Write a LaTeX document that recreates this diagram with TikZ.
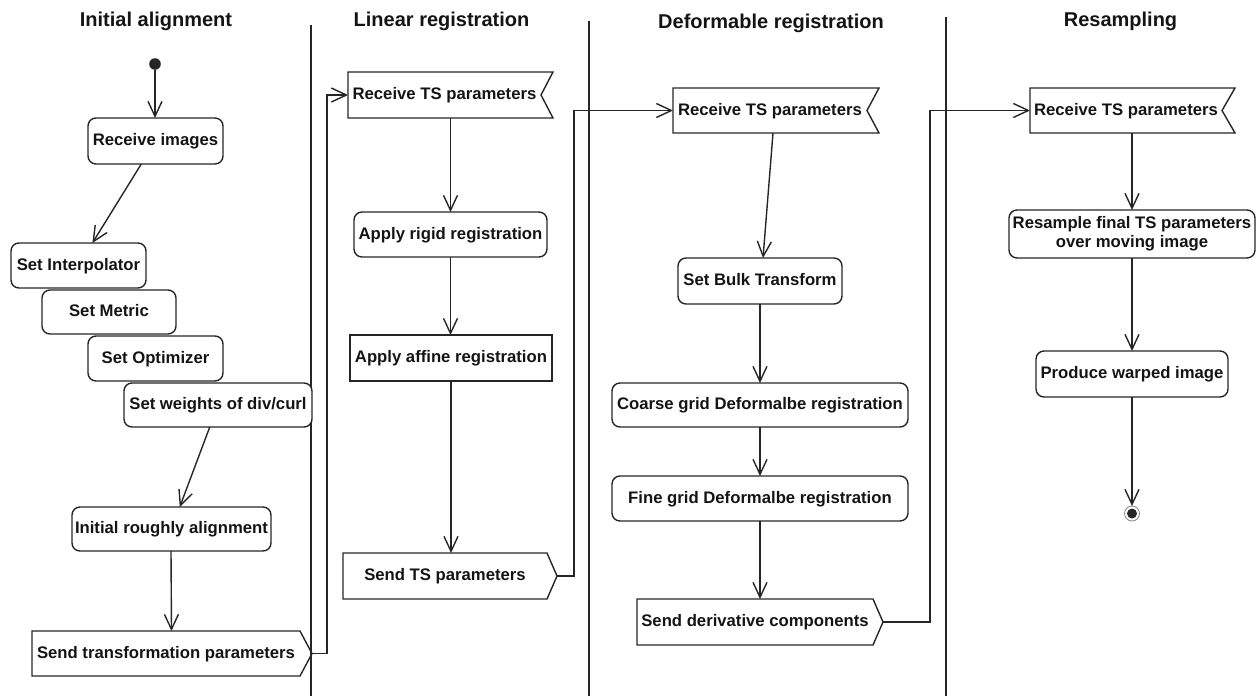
\documentclass[tikz,border=0pt]{standalone}
\usepackage{fontspec}
\setmainfont{Liberation Sans}
\usetikzlibrary{arrows.meta}
\begin{document}
\begin{tikzpicture}[x=1pt,y=-1pt,
  line width=1.4pt, color=black!85,
  every node/.style={inner sep=0pt, outer sep=0pt, text=black!92},
  boxfont/.style={font=\fontsize{16.7}{19}\selectfont\bfseries, align=center},
  fixtext/.style={text height=12pt, text depth=3pt},
  act/.style={boxfont, fixtext, draw, rounded corners=8pt},
  act2/.style={boxfont, draw, rounded corners=8pt},
  plainact/.style={boxfont, fixtext, draw},
  sigbody/.style={boxfont, fixtext},
  title/.style={font=\fontsize{20}{24}\selectfont\bfseries, anchor=base},
  flow/.style={-{Straight Barb[length=15pt,width=14pt]}},
]
\useasboundingbox (0,0) rectangle (1257,696);

% swimlane titles and separators
\node[title] (t1) at (156,27) {Initial alignment};
\node[title] (t2) at (441.5,27) {Linear registration};
\node[title] (t3) at (771,28) {Deformable registration};
\node[title] (t4) at (1120.5,27) {Resampling};
\draw (311,25) -- (311,696);
\draw (589,21) -- (589,696);
\draw (946,17) -- (946,696);

% ---- Initial alignment
\node[circle, fill, minimum size=11.6pt] (start) at (155,64) {};
\node[act, minimum width=135pt, minimum height=46pt] (rimg) at (155.5,141) {Receive images};
\node[act, minimum width=135pt, minimum height=45pt] (interp) at (78.5,265.5) {Set Interpolator};
\node[act, fill=white, minimum width=134pt, minimum height=44pt] (metric) at (109,312) {Set Metric};
\node[act, fill=white, minimum width=135pt, minimum height=45pt] (optim) at (155.5,358.5) {Set Optimizer};
\node[act, fill=white, minimum width=188pt, minimum height=44pt] (weights) at (218,405) {Set weights of div/curl};
\node[act, minimum width=199pt, minimum height=44pt] (rough) at (171.5,529) {Initial roughly alignment};
\node[sigbody, minimum width=268pt, minimum height=45pt] (stf) at (166,653.5) {Send transformation parameters};
\draw (stf.north west) -- (stf.north east) -- ([xshift=12pt]stf.east) -- (stf.south east) -- (stf.south west) -- cycle;

\draw[flow] (start) -- (rimg.north -| start);
\draw[flow] (rimg) -- (interp);
\draw[flow] (weights) -- (rough);
\draw[flow] ([xshift=-0.5pt]rough.south) -- (rough.south |- stf.north);

% ---- Linear registration
\node[sigbody, minimum width=193pt, minimum height=46pt] (rlin) at (444.5,95) {Receive TS parameters};
\draw (rlin.north west) -- ([xshift=12pt]rlin.north east) -- (rlin.east) -- ([xshift=12pt]rlin.south east) -- (rlin.south west) -- cycle;
\node[act, minimum width=193pt, minimum height=45pt] (rigid) at (450.5,234.5) {Apply rigid registration};
\node[plainact, minimum width=202pt, minimum height=46pt] (affine) at (451,358) {Apply affine registration};
\node[sigbody, minimum width=204pt, minimum height=46pt] (sts) at (445,576) {Send TS parameters};
\draw (sts.north west) -- (sts.north east) -- ([xshift=10pt]sts.east) -- (sts.south east) -- (sts.south west) -- cycle;

\draw[flow] ([xshift=-1pt]stf.east) ++(13pt,0) -- ++(15,0) |- (rlin.west);
\draw[flow] (rlin.south -| rigid.north) -- (rigid.north);
\draw[flow] (rigid.south) -- (rigid.south |- affine.north);
\draw[flow] (affine.south) -- (affine.south |- sts.north);

% ---- Deformable registration
\node[sigbody, minimum width=194pt, minimum height=45pt] (rdef) at (770,110.5) {Receive TS parameters};
\draw (rdef.north west) -- ([xshift=12pt]rdef.north east) -- (rdef.east) -- ([xshift=12pt]rdef.south east) -- (rdef.south west) -- cycle;
\node[act, minimum width=164pt, minimum height=46pt] (bulk) at (760,281) {Set Bulk Transform};
\node[act, minimum width=296pt, minimum height=44pt] (coarse) at (760,405) {Coarse grid Deformalbe registration};
\node[act, minimum width=296pt, minimum height=45pt] (fine) at (760,498.5) {Fine grid Deformalbe registration};
\node[sigbody, minimum width=236pt, minimum height=46pt] (sdc) at (755,622) {Send derivative components};
\draw (sdc.north west) -- (sdc.north east) -- ([xshift=10pt]sdc.east) -- (sdc.south east) -- (sdc.south west) -- cycle;

\draw[flow] ([xshift=10pt]sts.east) -- ++(17,0) |- (rdef.west);
\draw[flow] ([xshift=3pt]rdef.south) -- ([xshift=3pt]bulk.north);
\draw[flow] (bulk.south) -- (coarse.north);
\draw[flow] (coarse.south) -- (fine.north);
\draw[flow] (fine.south) -- (fine.south |- sdc.north);

% ---- Resampling
\node[sigbody, minimum width=192pt, minimum height=45pt] (rres) at (1126,110.5) {Receive TS parameters};
\draw (rres.north west) -- ([xshift=13pt]rres.north east) -- (rres.east) -- ([xshift=13pt]rres.south east) -- (rres.south west) -- cycle;
\node[act2, minimum width=246pt, minimum height=48pt] (resamp) at (1132,234) {Resample final TS parameters\\over moving image};
\node[act, minimum width=192pt, minimum height=46pt] (warp) at (1132,374) {Produce warped image};
\node[circle, draw=black!45, line width=0.9pt, minimum size=15pt] (stop) at (1132,513.5) {};
\node[circle, fill, minimum size=10pt] (stopdot) at (stop.center) {};

\draw[flow] ([xshift=10pt]sdc.east) -- ++(47,0) |- (rres.west);
\draw[flow] (rres.south -| resamp.north) -- (resamp.north);
\draw[flow] (resamp.south) -- (warp.north);
\draw[flow] (warp.south) -- (stop.north);
\end{tikzpicture}
\end{document}
